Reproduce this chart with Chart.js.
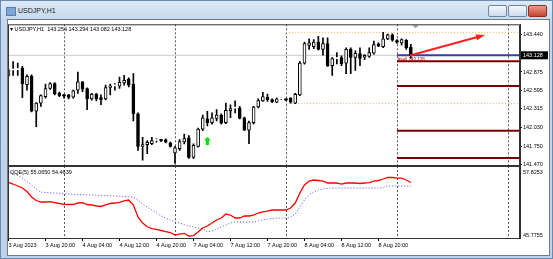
<!DOCTYPE html>
<html>
<head>
<meta charset="utf-8">
<script src="https://cdn.jsdelivr.net/npm/chart.js@4"></script>
<style>
  body { margin: 0; width: 553px; height: 259px; overflow: hidden; font-family: "Liberation Sans", Arial, sans-serif; }
  #win { position: absolute; left: 0; top: 0; width: 551px; height: 257px; border: 1px solid #6d8bb0;
         background: linear-gradient(#dce9f7, #c3d8ee 20px, #bcd2ea); }
  #title { position: absolute; left: 17px; top: 6px; font-size: 7px; color: #1b1b1b; }
  #icon { position: absolute; left: 5px; top: 6px; width: 8px; height: 7px; background: #7fa7d6; border: 1px solid #5a7fae; }
  .btn { position: absolute; top: 4px; width: 17px; height: 10px; border: 1px solid #6f86a6; border-radius: 2px;
         background: linear-gradient(#f4f8fc, #cfdcec); }
  #close { background: linear-gradient(#e89a8a, #c8432c); border-color: #8a3020; }
  #content { position: absolute; left: 7px; top: 19px; width: 541px; height: 235px; background: #fff; border: 1px solid #7a7a7a; }
  #mainBox { position: absolute; left: 7px; top: 20px; }
  #qqeBox { position: absolute; left: 7px; top: 165px; }
</style>
</head>
<body>
<div id="win">
  <div id="icon"></div>
  <div id="title">USDJPY,H1</div>
  <div class="btn" style="left:487px"></div>
  <div class="btn" style="left:507px"></div>
  <div class="btn" id="close" style="left:527px"></div>
</div>
<div id="content"></div>
<div id="mainBox"><canvas id="mainChart" width="541" height="161"></canvas></div>
<div id="qqeBox"><canvas id="qqeChart" width="541" height="88"></canvas></div>

<script>
// USDJPY H1, velas del 3 Aug 12:00 al 9 Aug 03:00
const opens = [142.824,142.905,142.912,142.936,142.684,142.809,142.280,142.403,142.502,142.625,
  142.699,142.551,142.515,142.527,142.492,142.601,142.724,142.625,142.468,142.537,
  142.488,142.468,142.640,142.665,142.661,142.709,142.764,142.690,142.240,141.747,
  141.772,141.787,141.836,141.840,141.846,141.802,141.648,141.712,141.816,141.876,
  141.579,141.747,142.009,142.166,142.107,142.172,142.221,142.107,142.290,142.327,
  142.329,142.181,141.994,142.107,142.344,142.438,142.492,142.458,142.418,142.465,
  142.465,142.478,142.403,142.527,143.010,143.277,143.258,143.327,143.218,143.307,
  142.972,143.078,143.095,143.010,143.218,143.095,143.154,143.099,143.110,143.159,
  143.302,143.258,143.376,143.440,143.335,143.317,143.357,143.254];
const highs = [142.921,143.031,143.010,142.961,142.833,142.833,142.413,142.527,142.690,142.714,
  142.714,142.570,142.537,142.537,142.601,142.873,142.734,142.635,142.552,142.552,
  142.527,142.675,142.690,142.699,142.799,142.824,142.788,142.850,142.255,141.884,
  141.836,141.884,141.860,141.855,141.860,141.811,141.747,141.851,141.934,141.910,
  141.786,142.024,142.221,142.280,142.255,142.305,142.240,142.403,142.379,142.438,
  142.354,142.191,142.132,142.354,142.468,142.566,142.540,142.470,142.480,142.480,
  142.470,142.488,142.552,143.031,143.327,143.376,143.366,143.416,143.391,143.391,
  143.095,143.169,143.120,143.243,143.243,143.194,143.243,143.140,143.243,143.342,
  143.317,143.476,143.450,143.455,143.366,143.376,143.366,143.294];
const lows = [142.809,142.824,142.824,142.487,142.601,142.270,142.047,142.354,142.477,142.610,
  142.527,142.500,142.477,142.468,142.477,142.551,142.576,142.305,142.448,142.438,
  142.379,142.453,142.527,142.601,142.625,142.675,142.650,142.132,141.687,141.539,
  141.638,141.772,141.810,141.820,141.800,141.737,141.490,141.687,141.786,141.564,
  141.564,141.737,141.984,142.058,142.083,142.132,142.083,142.092,142.181,142.255,
  142.162,141.984,141.787,142.083,142.329,142.428,142.430,142.410,142.410,142.455,
  142.440,142.403,142.395,142.517,142.995,143.218,143.228,143.208,143.129,142.961,
  142.824,142.996,142.972,142.848,142.848,142.898,142.972,143.060,143.095,143.144,
  143.258,143.243,143.366,143.342,143.307,143.280,143.218,143.082];
const closes = [142.898,142.910,142.925,142.699,142.809,142.280,142.403,142.517,142.625,142.699,
  142.542,142.517,142.513,142.488,142.591,142.724,142.616,142.468,142.542,142.468,
  142.453,142.640,142.665,142.668,142.720,142.749,142.675,142.240,141.747,141.776,
  141.810,141.836,141.840,141.836,141.811,141.747,141.727,141.821,141.865,141.579,
  141.762,142.009,142.181,142.107,142.181,142.221,142.098,142.295,142.320,142.329,
  142.172,141.994,142.107,142.344,142.443,142.502,142.453,142.424,142.468,142.468,
  142.453,142.418,142.537,143.010,143.307,143.317,143.327,143.218,143.307,142.972,
  143.080,143.082,142.996,143.218,143.095,143.159,143.080,143.129,143.169,143.292,
  143.268,143.376,143.440,143.357,143.332,143.366,143.243,143.128];

// QQE(5): linea rapida (roja) y lenta (azul punteada)
const qqeFast = [55.10,54.81,54.48,54.14,53.56,52.64,52.05,51.80,51.80,51.85,
  51.71,51.55,51.41,51.38,51.38,51.63,51.68,51.38,51.30,51.13,
  51.05,51.30,51.55,51.63,51.75,51.97,52.13,51.30,49.29,48.28,
  47.66,47.36,47.20,47.03,46.86,46.69,46.27,46.44,46.56,46.11,
  46.19,46.78,47.45,47.78,48.28,48.79,49.12,49.79,49.62,49.12,
  49.12,49.46,49.46,49.62,49.96,50.13,50.29,50.46,50.46,50.46,
  50.46,50.80,51.63,53.31,54.64,55.31,55.48,55.40,55.31,54.98,
  54.98,54.98,54.81,54.98,54.98,54.98,54.90,54.98,55.06,55.31,
  55.40,55.65,55.90,55.90,55.81,55.81,55.48,55.065];
const qqeSlow = [56.87,56.57,56.24,55.82,55.23,54.65,53.98,53.47,53.39,53.35,
  53.31,53.25,53.14,53.12,53.10,53.05,53.02,53.00,52.97,52.93,
  52.89,52.86,52.82,52.79,52.75,52.72,52.69,52.64,52.13,51.46,
  50.96,50.46,49.96,49.46,49.12,48.79,48.45,48.28,48.03,47.78,
  47.62,47.45,47.40,46.78,46.95,47.28,47.62,47.95,48.28,48.45,
  48.45,48.45,48.45,48.45,48.62,48.79,48.95,49.04,49.12,49.12,
  49.12,49.29,49.79,50.96,52.13,52.97,53.47,53.81,53.98,54.06,
  54.14,54.14,54.14,54.14,54.14,54.14,54.14,54.14,54.14,54.14,
  54.14,54.23,54.48,54.48,54.48,54.48,54.48,54.464];

const priceTicks = [143.440, 142.875, 142.595, 142.315, 142.030, 141.750, 141.470];
const timeTickIdx = [0, 8, 16, 24, 32, 40, 48, 56, 64, 72, 80];
const timeLabels = ['3 Aug 2023', '3 Aug 20:00', '4 Aug 04:00', '4 Aug 12:00', '4 Aug 20:00',
  '7 Aug 04:00', '7 Aug 12:00', '7 Aug 20:00', '8 Aug 04:00', '8 Aug 12:00', '8 Aug 20:00'];
const daySeparators = [12, 36, 60, 84, 108];
const prevDayStart = 60, prevDayHigh = 143.476, prevDayLow = 142.395;
const levelStart = 84;
const levels = [143.036, 142.661, 141.984, 141.573];
const bid = 143.128;
const arrowLine = [{ x: 86.8, y: 143.124 }, { x: 102.4, y: 143.425 }];
const signalUp = [{ x: 43, y: 141.836 }];
const qqeMax = 57.8253, qqeMin = 45.7755;

const X_MIN = -0.108, X_MAX = 110.6;
const FONT = '"Liberation Sans", Arial, sans-serif';

// flecha verde
const upIcon = document.createElement('canvas');
upIcon.width = 7; upIcon.height = 8;
(() => {
  const c = upIcon.getContext('2d');
  c.fillStyle = '#00e000';
  c.beginPath(); c.moveTo(3.5, 0); c.lineTo(7, 4); c.lineTo(5, 4); c.lineTo(5, 8);
  c.lineTo(2, 8); c.lineTo(2, 4); c.lineTo(0, 4); c.closePath(); c.fill();
})();

const idx = opens.map((_, i) => i);
const wickData = idx.map(i => ({ x: i, y: [lows[i], highs[i]] }));
const bodyData = idx.map(i => ({ x: i, y: [opens[i], closes[i]] }));
const up = i => closes[i] >= opens[i];

const hLine = (y, from) => [{ x: from, y }, { x: X_MAX, y }];
const noPoints = { radius: 0, hoverRadius: 0, borderWidth: 0 };

const dashedSeparators = {
  id: 'separadores',
  beforeDatasetsDraw(chart) {
    const { ctx, chartArea: a, scales: { x } } = chart;
    ctx.save();
    ctx.strokeStyle = '#555';
    ctx.lineWidth = 1;
    ctx.setLineDash([2, 2]);
    daySeparators.forEach(d => {
      const px = Math.round(x.getPixelForValue(d)) + 0.5;
      ctx.beginPath(); ctx.moveTo(px, a.top); ctx.lineTo(px, a.bottom); ctx.stroke();
    });
    ctx.restore();
  },
  afterDraw(chart) {
    const { ctx, chartArea: a } = chart;
    ctx.save();
    ctx.strokeStyle = '#333';
    ctx.lineWidth = 1;
    ctx.strokeRect(a.left + 0.5, a.top + 0.5, a.right - a.left - 1, a.bottom - a.top);
    ctx.restore();
  }
};

const mainExtras = {
  id: 'extrasPrincipal',
  afterDatasetsDraw(chart) {
    const { ctx, chartArea: a, scales: { x, y } } = chart;
    ctx.save();
    // punta de la flecha roja
    const meta = chart.getDatasetMeta(chart.data.datasets.findIndex(d => d.label === 'flecha'));
    const p0 = meta.data[0], p1 = meta.data[1];
    const ang = Math.atan2(p1.y - p0.y, p1.x - p0.x);
    ctx.fillStyle = '#ff1e1e';
    ctx.translate(p1.x, p1.y); ctx.rotate(ang);
    ctx.beginPath(); ctx.moveTo(3, 0); ctx.lineTo(-6, -3); ctx.lineTo(-6, 3); ctx.closePath(); ctx.fill();
    ctx.restore();

    ctx.save();
    // cabecera
    ctx.font = '5.5px ' + FONT;
    ctx.fillStyle = '#000';
    ctx.textBaseline = 'middle';
    ctx.fillText('\u25BE USDJPY,H1  143.254 143.294 143.082 143.128', a.left + 2, a.top + 5);
    // marcador de desplazamiento
    const sx = x.getPixelForValue(opens.length);
    ctx.fillStyle = '#9a9a9a';
    ctx.beginPath(); ctx.moveTo(sx - 3, a.top + 1); ctx.lineTo(sx + 3, a.top + 1); ctx.lineTo(sx, a.top + 4); ctx.fill();
    // etiqueta del bid
    const by = y.getPixelForValue(bid);
    ctx.fillStyle = '#000';
    ctx.fillRect(a.right + 1, by - 4, 27, 8);
    ctx.fillStyle = '#fff';
    ctx.fillText(bid.toFixed(3), a.right + 3, by);
    // texto de la orden
    ctx.fillStyle = '#c00000';
    ctx.font = '4.5px ' + FONT;
    ctx.fillText('#sell 143.138', x.getPixelForValue(levelStart) + 1, y.getPixelForValue(levels[0]) - 2);
    ctx.restore();
  }
};

new Chart(document.getElementById('mainChart'), {
  data: {
    datasets: [
      { type: 'line', label: 'bid', data: hLine(bid, X_MIN), borderColor: '#c8c8c8', borderWidth: 1, order: 5 },
      { type: 'line', label: 'maximo', data: hLine(prevDayHigh, prevDayStart), borderColor: '#ffb347', borderWidth: 1, borderDash: [1, 2], order: 5 },
      { type: 'line', label: 'minimo', data: hLine(prevDayLow, prevDayStart), borderColor: '#ffb347', borderWidth: 1, borderDash: [1, 2], order: 5 },
      { type: 'line', label: 'orden', data: hLine(bid, levelStart), borderColor: '#3b3bb0', borderWidth: 2, order: 4 },
      ...levels.map((lv, k) => ({ type: 'line', label: 'nivel' + k, data: hLine(lv, levelStart), borderColor: '#7a0000', borderWidth: 2, order: 4 })),
      { type: 'bar', label: 'mechas', data: wickData, backgroundColor: '#000', barThickness: 1, grouped: false, order: 3 },
      { type: 'bar', label: 'cuerpos', data: bodyData, grouped: false, barThickness: 3, minBarLength: 1, order: 2,
        backgroundColor: c => up(c.dataIndex) ? '#fff' : '#000',
        borderColor: '#000',
        borderWidth: c => Math.abs(opens[c.dataIndex] - closes[c.dataIndex]) > 0.02 ? 1 : 0,
        borderSkipped: false },
      { type: 'line', label: 'flecha', data: arrowLine, borderColor: '#ff1e1e', borderWidth: 2, order: 1 },
      { type: 'scatter', label: 'senal', data: signalUp, pointStyle: upIcon, pointRadius: 0.5, pointHoverRadius: 0, pointBorderWidth: 0, order: 1 }
    ]
  },
  options: {
    responsive: false,
    animation: false,
    events: [],
    elements: { point: noPoints },
    layout: { padding: { top: 1, bottom: 16, left: 1, right: 0 } },
    plugins: { legend: { display: false }, tooltip: { enabled: false } },
    scales: {
      x: { type: 'linear', min: X_MIN, max: X_MAX, display: false, offset: false },
      y: {
        position: 'right', min: 141.465, max: 143.598,
        afterFit: s => { s.width = 28; },
        afterBuildTicks: s => { s.ticks = priceTicks.map(v => ({ value: v })); },
        grid: { drawOnChartArea: false, tickLength: 2, color: '#000' },
        border: { color: '#333' },
        ticks: { font: { size: 5.5, family: FONT }, color: '#000', padding: 1, callback: v => v.toFixed(3) }
      }
    }
  },
  plugins: [dashedSeparators, mainExtras]
});

const qqeExtras = {
  id: 'extrasQQE',
  afterDraw(chart) {
    const { ctx, chartArea: a } = chart;
    ctx.save();
    ctx.font = '5.5px ' + FONT;
    ctx.fillStyle = '#000';
    ctx.textBaseline = 'middle';
    ctx.fillText('QQE(5) 55.0650 54.4639', a.left + 2, a.top + 6);
    ctx.fillText(qqeMax.toFixed(4), a.right + 3, a.top + 6);
    ctx.fillText(qqeMin.toFixed(4), a.right + 3, a.bottom - 3);
    ctx.restore();
  }
};

new Chart(document.getElementById('qqeChart'), {
  type: 'line',
  data: {
    datasets: [
      { label: 'QQE', data: idx.map(i => ({ x: i, y: qqeFast[i] })), borderColor: '#ff0000', borderWidth: 1.3, order: 1 },
      { label: 'QQE lenta', data: idx.map(i => ({ x: i, y: qqeSlow[i] })), borderColor: '#4a4aff', borderWidth: 1, borderDash: [1, 2], order: 2 }
    ]
  },
  options: {
    responsive: false,
    animation: false,
    events: [],
    elements: { point: noPoints },
    layout: { padding: { top: 1, bottom: 0, left: 1, right: 0 } },
    plugins: { legend: { display: false }, tooltip: { enabled: false } },
    scales: {
      x: {
        type: 'linear', min: X_MIN, max: X_MAX, offset: false,
        afterFit: s => { s.height = 15; },
        afterBuildTicks: s => { s.ticks = timeTickIdx.map(v => ({ value: v })); },
        grid: { drawOnChartArea: false, tickLength: 3, color: '#000' },
        border: { color: '#333' },
        ticks: { font: { size: 5.5, family: FONT }, color: '#000', align: 'start', maxRotation: 0, autoSkip: false, padding: 1,
                 callback: (v, i) => timeLabels[i] }
      },
      y: {
        position: 'right', min: qqeMin, max: qqeMax,
        afterFit: s => { s.width = 28; },
        afterBuildTicks: s => { s.ticks = []; },
        grid: { display: false },
        border: { color: '#333' },
        ticks: { display: false }
      }
    }
  },
  plugins: [dashedSeparators, qqeExtras]
});
</script>
</body>
</html>
